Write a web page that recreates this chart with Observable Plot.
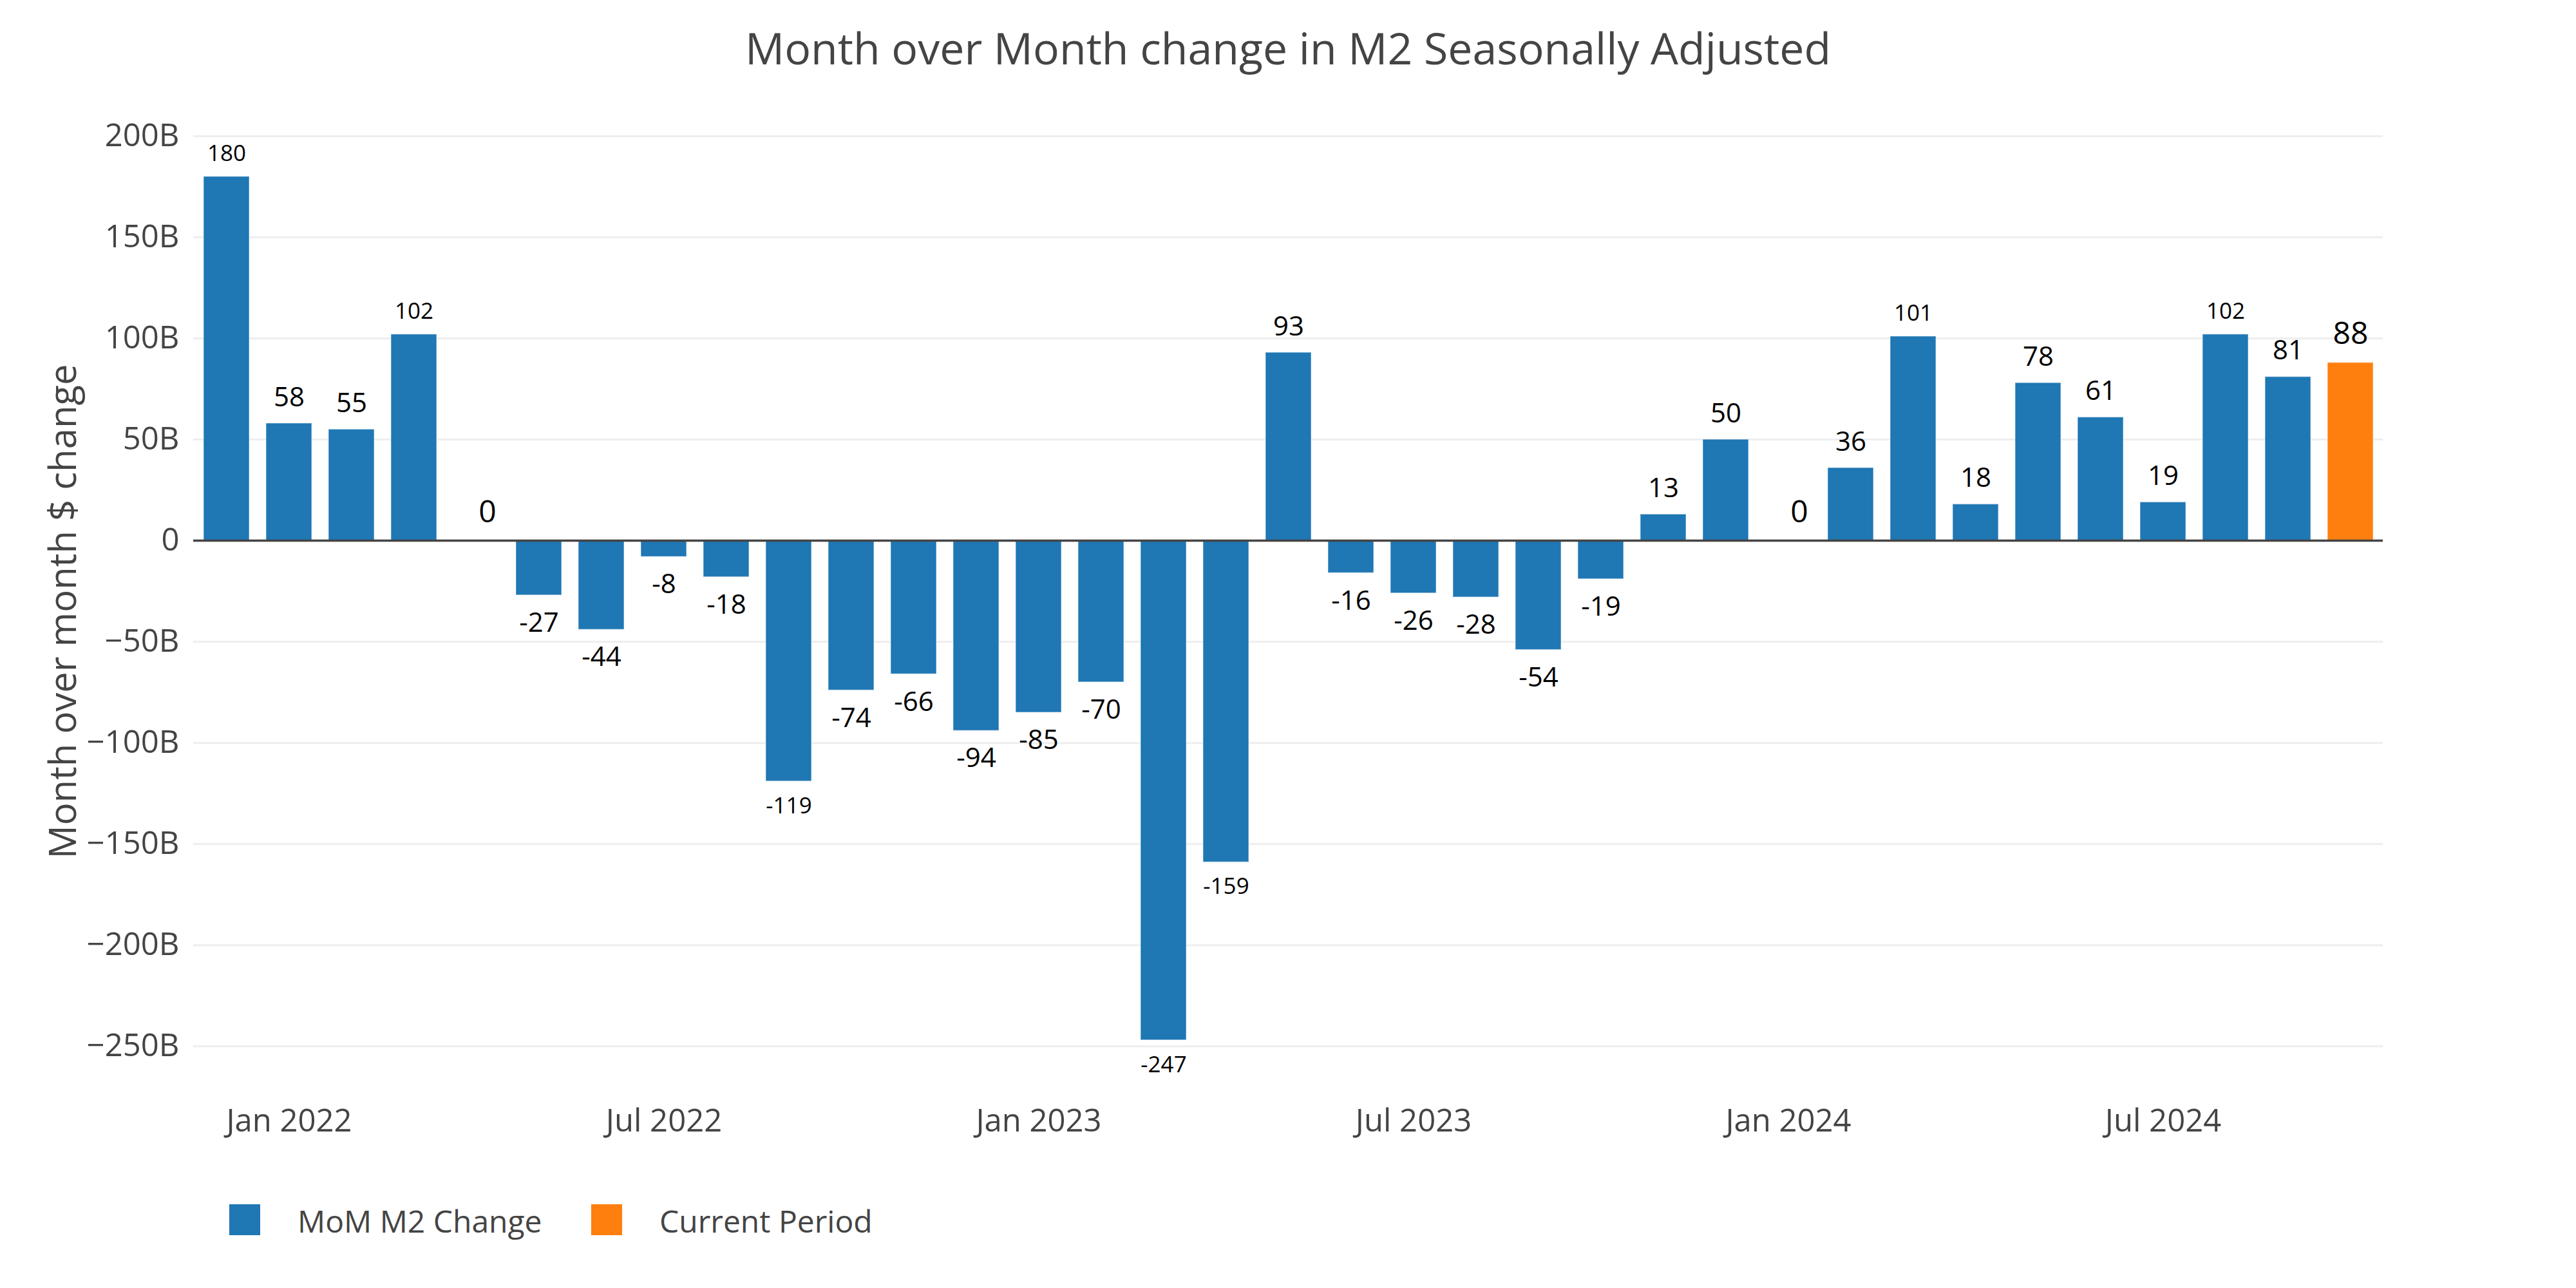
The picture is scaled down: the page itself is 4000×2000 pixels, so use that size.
<!DOCTYPE html>
<html>
<head>
<meta charset="utf-8">
<script src="https://cdn.jsdelivr.net/npm/d3@7"></script>
<script src="https://cdn.jsdelivr.net/npm/@observablehq/plot@0.6"></script>
<style>
html, body { margin: 0; padding: 0; background: #fff; }
body { width: 4000px; height: 2000px; font-family: "Open Sans", sans-serif; overflow: hidden; }
#title { height: 140px; box-sizing: border-box; padding-top: 40px; font-size: 68px; line-height: 68px; color: #444; text-align: center; white-space: nowrap; }
#chart svg { display: block; }
#legend { position: relative; height: 200px; font-size: 48px; line-height: 48px; color: #444; }
.sw { position: absolute; top: 70px; width: 48px; height: 48px; }
.lt { position: absolute; top: 72px; white-space: nowrap; }
</style>
</head>
<body>
<div id="title"></div>
<div id="chart"></div>
<div id="legend"></div>
<script>
const titleText = "Month over Month change in M2 Seasonally Adjusted";
const yTitle = "Month over month $ change";

const months = [
  "2021-12",
  "2022-01","2022-02","2022-03","2022-04","2022-05","2022-06","2022-07","2022-08","2022-09","2022-10","2022-11","2022-12",
  "2023-01","2023-02","2023-03","2023-04","2023-05","2023-06","2023-07","2023-08","2023-09","2023-10","2023-11","2023-12",
  "2024-01","2024-02","2024-03","2024-04","2024-05","2024-06","2024-07","2024-08","2024-09","2024-10"
];
const values = [
  180,
  58, 55, 102, 0, -27, -44, -8, -18, -119, -74, -66, -94,
  -85, -70, -247, -159, 93, -16, -26, -28, -54, -19, 13, 50,
  0, 36, 101, 18, 78, 61, 19, 102, 81, 88
];
const currentMonth = "2024-10";
const seriesNames = ["MoM M2 Change", "Current Period"];
const seriesColors = ["#1f77b4", "#ff7f0e"];

const yTicks = [-250, -200, -150, -100, -50, 0, 50, 100, 150, 200];
const tickMonths = ["2022-01", "2022-07", "2023-01", "2023-07", "2024-01", "2024-07"];
const tickLabels = ["Jan 2022", "Jul 2022", "Jan 2023", "Jul 2023", "Jan 2024", "Jul 2024"];

const rows = months.map((m, i) => ({
  month: m,
  value: values[i],
  series: m === currentMonth ? seriesNames[1] : seriesNames[0]
}));

// label font size (mimics plotly's outside-text shrink to bar width)
function labelSize(d) {
  if (d.series === seriesNames[1] || d.value === 0) return 48;
  return String(Math.abs(d.value)).length >= 3 ? 35 : 42;
}
const groups = d3.groups(rows, d => labelSize(d), d => (d.value > 0 ? 1 : d.value < 0 ? -1 : 0));
const labelMarks = [];
for (const [fs, bySign] of groups) {
  for (const [sign, data] of bySign) {
    const gap = 13 + 0.33 * fs;
    labelMarks.push(Plot.text(data, {
      x: "month", y: "value", text: d => String(d.value),
      fontSize: fs, fill: "#000",
      lineAnchor: sign >= 0 ? "bottom" : "top",
      dy: sign >= 0 ? -gap : gap,
      dx: sign === 0 ? 17 : 0
    }));
  }
}

const fmtY = d => d === 0 ? "0" : (d < 0 ? "\u2212" + Math.abs(d) + "B" : d + "B");

document.getElementById("title").textContent = titleText;

const chart = Plot.plot({
  width: 4000,
  height: 1660,
  marginTop: 71,
  marginBottom: 113,
  marginLeft: 300,
  marginRight: 300,
  style: { fontFamily: '"Open Sans", sans-serif', background: "white", overflow: "visible" },
  x: { type: "band", domain: months, paddingInner: 0.27, paddingOuter: 0.1, label: null },
  y: { domain: [-270, 200], label: null },
  color: { domain: seriesNames, range: seriesColors },
  marks: [
    Plot.gridY(yTicks.filter(d => d !== 0), { stroke: "#eeeeee", strokeOpacity: 1, strokeWidth: 3 }),
    Plot.barY(rows, { x: "month", y: "value", fill: "series", stroke: "white", strokeOpacity: 0.4, strokeWidth: 1.5 }),
    Plot.ruleY([0], { stroke: "#444", strokeWidth: 3.5 }),
    Plot.axisY({ ticks: yTicks, tickSize: 0, tickPadding: 22, tickFormat: fmtY, fontSize: 49, color: "#444", label: null }),
    Plot.axisX({ ticks: tickMonths, tickSize: 0, tickPadding: 35, tickFormat: m => tickLabels[tickMonths.indexOf(m)], fontSize: 49, color: "#444", label: null }),
    ...labelMarks,
    Plot.text([yTitle], { frameAnchor: "left", dx: -183, rotate: -90, lineAnchor: "bottom", textAnchor: "middle", fontSize: 58, fill: "#444" })
  ]
});
document.getElementById("chart").appendChild(chart);

// legend (HTML, below the SVG)
const legend = document.getElementById("legend");
const swatchLeft = [356, 918];
const textLeft = [462, 1024];
seriesNames.forEach((name, i) => {
  const sw = document.createElement("div");
  sw.className = "sw";
  sw.style.background = seriesColors[i];
  sw.style.left = swatchLeft[i] + "px";
  const t = document.createElement("div");
  t.className = "lt";
  t.style.left = textLeft[i] + "px";
  t.textContent = name;
  legend.appendChild(sw);
  legend.appendChild(t);
});
</script>
</body>
</html>
